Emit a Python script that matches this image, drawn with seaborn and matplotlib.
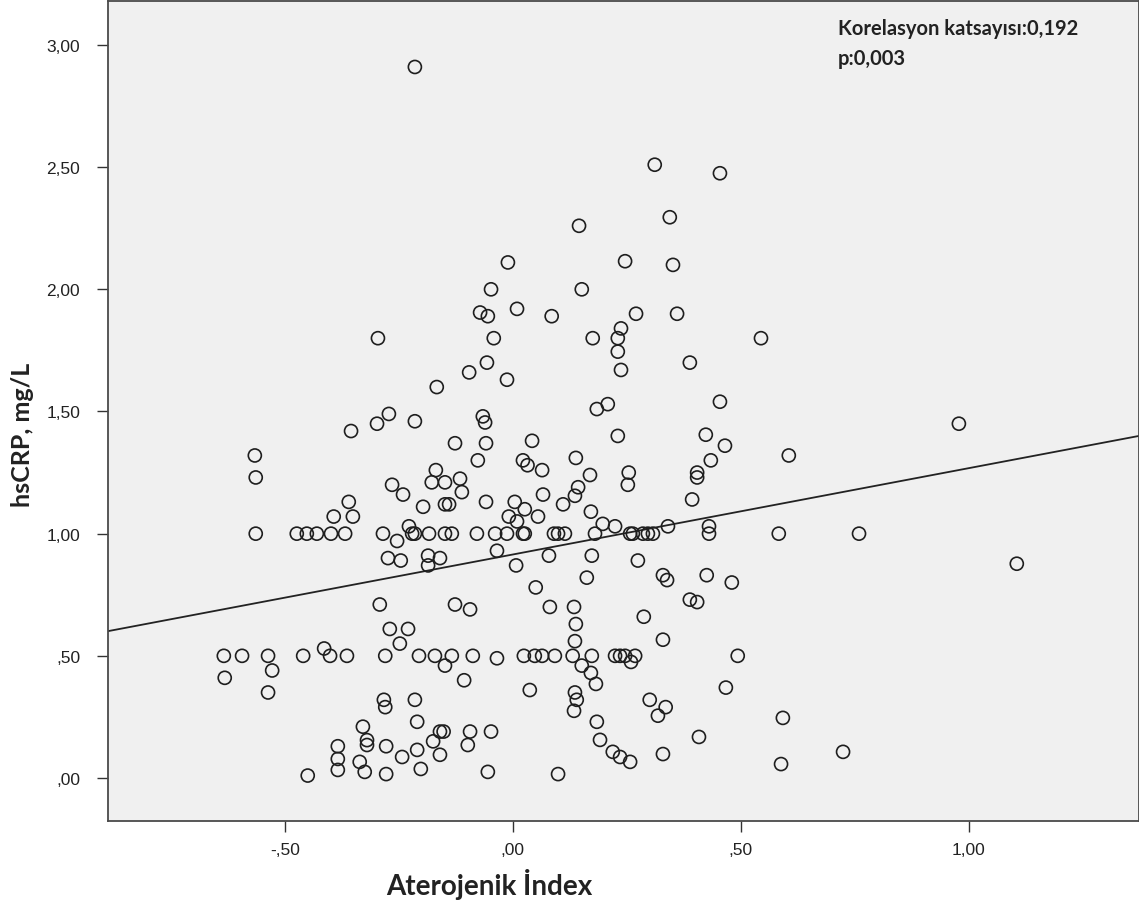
import numpy as np
import pandas as pd
import matplotlib
matplotlib.use("Agg")
import matplotlib.pyplot as plt
import seaborn as sns

# ---- data ----
atero_index = [
    -0.215, 0.311, 0.454, 0.344, 0.145, -0.011, 0.246, 0.351, -0.048, 0.151,
    -0.072, -0.055, 0.009, 0.085, 0.270, 0.360, 0.237, -0.042, -0.296, 0.175,
    0.230, 0.230, 0.237, 0.388, 0.544, -0.057, -0.096, -0.013, -0.167, -0.272,
    -0.215, -0.066, -0.061, -0.298, -0.355, 0.184, 0.208, 0.454, -0.127, -0.059,
    0.042, 0.230, 0.423, 0.465, 0.978, 0.605, -0.566, -0.564,
    -0.077, 0.022, 0.032, 0.064, -0.169, -0.178, -0.149, -0.116, -0.112, -0.265,
    -0.241, -0.197, -0.149, -0.140, -0.059, 0.004, 0.026, 0.066, -0.009, 0.009,
    0.055, 0.138, 0.169, 0.254, 0.252, 0.404, 0.404, 0.434, 0.143, 0.136,
    0.110, 0.171, 0.393, 0.197, 0.224, 0.340, 0.430, -0.393, -0.351, -0.360,
    -0.228,
    -0.564, -0.474, -0.452, -0.430, -0.399, -0.368, -0.285, -0.221, -0.215, -0.184,
    -0.149, -0.134, -0.079, -0.039, -0.013, 0.022, 0.026, 0.090, 0.099, 0.114,
    0.180, 0.257, 0.263, 0.285, 0.296, 0.307, 0.430, 0.583, 0.759,
    -0.254, -0.274, -0.246, -0.186, -0.160, -0.186, -0.035, 0.007, 0.079, 0.173,
    0.274, 0.050, 0.162, 0.329, 0.338, 0.425, 0.480, 1.105, 0.388, 0.404,
    -0.292, -0.127, -0.094, 0.081, 0.134, 0.287,
    -0.270, -0.230, -0.248, 0.138, 0.136, 0.329, -0.414,
    -0.634, -0.594, -0.537, -0.460, -0.401, -0.364, -0.280, -0.206, -0.171, -0.134,
    -0.088, -0.035, 0.024, 0.048, 0.064, 0.092, 0.131, 0.173, 0.224, 0.235,
    0.246, 0.268, 0.493,
    0.259, -0.149, 0.151, -0.632, -0.528, -0.537, 0.171, -0.107, 0.182, 0.037,
    0.467, 0.136, 0.140, 0.134, -0.283, -0.280, -0.215, 0.300, 0.335, 0.318,
    0.592, -0.210, 0.184, -0.329, -0.160, -0.152, -0.094, -0.048, -0.320, -0.320,
    -0.384, -0.278, -0.175, -0.099, 0.191, 0.408, -0.210, -0.160, -0.243, 0.219,
    0.235, 0.257, 0.329, 0.724, -0.384, -0.336, 0.588, -0.384, -0.325, -0.450,
    -0.278, -0.202, -0.055, 0.099,
]
hs_crp = [
    2.91, 2.51, 2.475, 2.295, 2.26, 2.11, 2.115, 2.10, 2.00, 2.00,
    1.905, 1.89, 1.92, 1.89, 1.90, 1.90, 1.84, 1.80, 1.80, 1.80,
    1.80, 1.745, 1.67, 1.70, 1.80, 1.70, 1.66, 1.63, 1.60, 1.49,
    1.46, 1.48, 1.455, 1.45, 1.42, 1.51, 1.53, 1.54, 1.37, 1.37,
    1.38, 1.40, 1.405, 1.36, 1.45, 1.32, 1.32, 1.23,
    1.30, 1.30, 1.28, 1.26, 1.26, 1.21, 1.21, 1.225, 1.17, 1.20,
    1.16, 1.11, 1.12, 1.12, 1.13, 1.13, 1.10, 1.16, 1.07, 1.05,
    1.07, 1.31, 1.24, 1.25, 1.20, 1.25, 1.23, 1.30, 1.19, 1.155,
    1.12, 1.09, 1.14, 1.04, 1.03, 1.03, 1.03, 1.07, 1.07, 1.13,
    1.03,
    1.00, 1.00, 1.00, 1.00, 1.00, 1.00, 1.00, 1.00, 1.00, 1.00,
    1.00, 1.00, 1.00, 1.00, 1.00, 1.00, 1.00, 1.00, 1.00, 1.00,
    1.00, 1.00, 1.00, 1.00, 1.00, 1.00, 1.00, 1.00, 1.00,
    0.97, 0.90, 0.89, 0.91, 0.90, 0.87, 0.93, 0.87, 0.91, 0.91,
    0.89, 0.78, 0.82, 0.83, 0.81, 0.83, 0.80, 0.877, 0.73, 0.72,
    0.71, 0.71, 0.69, 0.70, 0.70, 0.66,
    0.61, 0.61, 0.55, 0.63, 0.56, 0.566, 0.53,
    0.50, 0.50, 0.50, 0.50, 0.50, 0.50, 0.50, 0.50, 0.50, 0.50,
    0.50, 0.49, 0.50, 0.50, 0.50, 0.50, 0.50, 0.50, 0.50, 0.50,
    0.50, 0.50, 0.50,
    0.475, 0.46, 0.46, 0.41, 0.44, 0.35, 0.43, 0.40, 0.385, 0.36,
    0.37, 0.35, 0.32, 0.275, 0.32, 0.29, 0.32, 0.32, 0.29, 0.255,
    0.246, 0.23, 0.23, 0.21, 0.19, 0.19, 0.19, 0.19, 0.155, 0.135,
    0.13, 0.13, 0.15, 0.135, 0.156, 0.168, 0.115, 0.095, 0.086, 0.107,
    0.086, 0.066, 0.098, 0.107, 0.078, 0.066, 0.057, 0.033, 0.025, 0.01,
    0.016, 0.037, 0.025, 0.016,
]
# fitted line endpoints
fit_x = [-0.888, 1.373]
fit_y = [0.601, 1.400]

x_ticks = [-0.5, 0.0, 0.5, 1.0]
x_tick_labels = ["-,50", ",00", ",50", "1,00"]
y_ticks = [0.0, 0.5, 1.0, 1.5, 2.0, 2.5, 3.0]
y_tick_labels = [",00", ",50", "1,00", "1,50", "2,00", "2,50", "3,00"]

x_label = "Aterojenik İndex"
y_label = "hsCRP, mg/L"
annotation = "Korelasyon katsayısı:0,192\np:0,003"

df = pd.DataFrame({"x": atero_index, "y": hs_crp})

sns.set_theme(style="ticks")
plt.rcParams["font.family"] = ["Liberation Sans", "DejaVu Sans"]

W, H = 1139, 904
fig = plt.figure(figsize=(W / 100, H / 100), dpi=100)
fig.patch.set_facecolor("white")
ax = fig.add_axes([108 / W, 82 / H, 1031 / W, 820 / H])
ax.set_facecolor("#f0f0f0")

sns.scatterplot(data=df, x="x", y="y", ax=ax, s=88, marker="o",
                facecolors="none", edgecolor="#1e1e1e", linewidth=1.2,
                legend=False, zorder=3)
sns.lineplot(x=fit_x, y=fit_y, ax=ax, color="#222222", linewidth=1.3,
             zorder=2, legend=False)

ax.set_xlim(-0.888, 1.373)
ax.set_ylim(-0.176, 3.18)
ax.set_xticks(x_ticks)
ax.set_xticklabels(x_tick_labels)
ax.set_yticks(y_ticks)
ax.set_yticklabels(y_tick_labels)
ax.tick_params(axis="both", direction="out", length=8, width=1.0,
               color="#333333", labelsize=12.5, labelcolor="#222222")
ax.tick_params(axis="y", pad=12)
ax.tick_params(axis="x", pad=7)

for sp in ax.spines.values():
    sp.set_visible(True)
    sp.set_color("#4a4a4a")
    sp.set_linewidth(1.3)

label_font = ["Lato", "DejaVu Sans"]
ax.set_xlabel(x_label, fontsize=20, fontweight="bold", family=label_font,
              color="#222222", va="center")
ax.set_ylabel(y_label, fontsize=18, fontweight="bold", family=label_font,
              color="#222222", va="center")
ax.xaxis.set_label_coords((489 - 108) / 1031, (822 - 885) / 820)
ax.yaxis.set_label_coords((22 - 108) / 1031, (822 - 435) / 820)

ax.text((838 - 108) / 1031, (822 - 19) / 820, annotation, transform=ax.transAxes,
        ha="left", va="top", fontsize=14.5, fontweight="bold",
        family=label_font, color="#222222", linespacing=1.6)

fig.savefig("out.png", dpi=100)
